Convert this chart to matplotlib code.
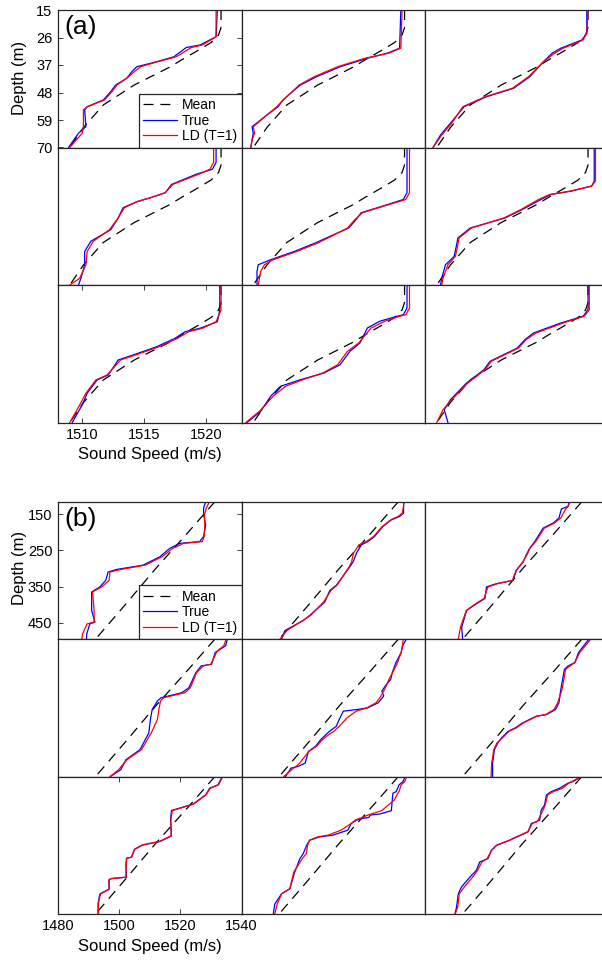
import matplotlib
matplotlib.use("Agg")
import matplotlib.pyplot as plt

plt.rcParams['font.family'] = ['Liberation Sans', 'DejaVu Sans']

W, H = 602, 960

# ---------------- panel (a): shallow profiles, depth 15-70 m ----------------
a_mean_depth = [15, 22, 25, 28, 31, 35, 38, 45, 53, 62, 70]
a_mean_speed = [1521.2, 1521.2, 1521.0, 1520.4, 1519.4, 1518.0, 1517.0, 1514.2, 1511.7, 1510.1, 1509.0]

a1_depth = [15, 25.7, 29, 30, 33.7, 35.7, 37.7, 39.7, 42.3, 45, 47.7, 51, 53.7, 55, 61.7, 64.3, 70]
a1_true = [1520.9, 1520.8, 1519.5, 1518.4, 1517.4, 1516.0, 1514.4, 1514.0, 1513.6, 1512.7, 1512.3, 1511.7, 1510.4, 1510.2, 1510.3, 1509.7, 1508.9]
a1_ld = [1520.8, 1520.8, 1519.7, 1518.8, 1517.6, 1516.1, 1514.7, 1514.2, 1513.6, 1512.8, 1512.4, 1511.8, 1510.4, 1510.1, 1510.1, 1510.0, 1509.0]

a2_depth = [15, 30.3, 32.3, 34.3, 37.7, 41.7, 45, 48.3, 51, 53.7, 57, 61.7, 64.3, 67, 70]
a2_true = [1520.9, 1520.8, 1519.8, 1518.2, 1516.0, 1514.1, 1512.8, 1512.0, 1511.4, 1511.0, 1510.1, 1508.9, 1509.0, 1508.9, 1508.8]
a2_ld = [1521.0, 1520.9, 1519.9, 1518.0, 1515.8, 1513.9, 1512.7, 1512.0, 1511.4, 1510.9, 1510.1, 1509.0, 1509.1, 1508.9, 1508.8]

a3_depth = [15, 24.3, 27, 30.3, 32.3, 35.7, 41.7, 46.3, 49.7, 53.7, 60.3, 65, 70]
a3_true = [1521.1, 1521.1, 1520.7, 1519.0, 1518.3, 1517.6, 1516.5, 1515.2, 1513.0, 1511.2, 1510.1, 1509.3, 1508.7]
a3_ld = [1521.2, 1521.1, 1520.8, 1519.2, 1518.5, 1517.6, 1516.4, 1515.1, 1512.9, 1511.1, 1510.2, 1509.4, 1508.7]

a4_depth = [15, 21.0, 23.7, 25.7, 29.8, 33.1, 35.1, 36.7, 39.1, 43.2, 47.9, 52.5, 56.6, 61.9, 67.3, 70]
a4_true = [1520.8, 1520.8, 1520.5, 1519.2, 1517.2, 1516.7, 1515.5, 1514.4, 1513.3, 1512.9, 1512.3, 1510.7, 1510.2, 1510.2, 1509.9, 1509.7]
a4_ld = [1520.6, 1520.6, 1520.3, 1519.4, 1517.3, 1516.7, 1515.5, 1514.4, 1513.4, 1512.9, 1512.2, 1510.9, 1510.4, 1510.3, 1509.8, 1509.0]

a5_depth = [15, 33.1, 35.8, 38.5, 41.1, 43.8, 47.2, 50.5, 53.2, 56.6, 59.9, 61.9, 64.6, 70]
a5_true = [1521.4, 1521.4, 1521.1, 1519.4, 1517.7, 1517.3, 1516.7, 1515.2, 1514.0, 1512.3, 1510.4, 1509.4, 1509.3, 1509.3]
a5_ld = [1521.6, 1521.6, 1521.3, 1519.5, 1517.8, 1517.2, 1516.6, 1515.3, 1514.2, 1512.5, 1510.6, 1509.9, 1509.6, 1509.4]

a6_depth = [15, 28.4, 30.4, 32.4, 33.8, 35.8, 39.8, 43.2, 47.2, 51.2, 53.9, 58.6, 61.9, 67.3, 70]
a6_true = [1521.7, 1521.7, 1521.5, 1519.9, 1518.2, 1517.4, 1515.9, 1514.5, 1511.7, 1510.7, 1510.6, 1510.4, 1509.7, 1509.4, 1509.3]
a6_ld = [1521.8, 1521.8, 1521.5, 1519.8, 1518.1, 1517.2, 1515.8, 1514.4, 1511.8, 1510.8, 1510.7, 1510.5, 1509.9, 1509.5, 1509.4]

a7_depth = [15, 25, 29.7, 32.3, 33.7, 36.3, 39.7, 43, 45, 51, 53, 58.3, 63, 70]
a7_true = [1521.1, 1521.1, 1520.9, 1519.5, 1518.3, 1517.5, 1516.0, 1514.1, 1512.9, 1512.1, 1511.2, 1510.4, 1510.0, 1509.2]
a7_ld = [1521.2, 1521.2, 1520.8, 1519.7, 1518.6, 1517.7, 1516.2, 1514.3, 1513.1, 1512.0, 1511.1, 1510.3, 1509.8, 1509.0]

a8_depth = [15, 24.2, 26.9, 27.5, 29.5, 32.2, 38.2, 41.5, 46.9, 50.2, 52.9, 55.5, 59.5, 65.5, 70]
a8_true = [1521.4, 1521.4, 1521.1, 1520.6, 1519.2, 1518.2, 1517.6, 1516.8, 1516.0, 1514.7, 1512.8, 1511.2, 1510.4, 1509.6, 1508.5]
a8_ld = [1521.6, 1521.6, 1521.3, 1520.8, 1519.6, 1518.5, 1517.5, 1516.6, 1515.8, 1514.6, 1513.0, 1511.6, 1510.6, 1509.5, 1508.4]

a9_depth = [15, 24.9, 27.5, 30.2, 34.2, 36.9, 40.2, 45.5, 48.9, 54.2, 60.9, 64.9, 70]
a9_true = [1521.2, 1521.2, 1520.8, 1519.0, 1516.8, 1516.1, 1515.5, 1513.3, 1512.8, 1511.4, 1510.1, 1509.6, 1509.9]
a9_ld = [1521.3, 1521.3, 1520.9, 1519.2, 1517.0, 1516.2, 1515.6, 1513.4, 1512.9, 1511.5, 1510.2, 1509.5, 1509.0]

a_xticks = [1510, 1515, 1520]
a_yticks = [15, 26, 37, 48, 59, 70]

# ---------------- panel (b): deep profiles ----------------
b_mean_depth = [116, 200, 300, 400, 495]
b_mean_speed = [1531.3, 1522.6, 1512.0, 1502.0, 1492.3]

b1_depth = [116, 134, 152, 180, 212, 226, 231, 245, 268, 291, 303, 310, 333, 351, 365, 416, 448, 453, 481, 495]
b1_true = [1528.3, 1527.6, 1527.6, 1528.3, 1527.6, 1526.3, 1519.8, 1516.5, 1513.3, 1507.8, 1499.1, 1496.4, 1495.6, 1493.7, 1491.0, 1491.0, 1492.1, 1490.4, 1489.4, 1489.3]
b1_ld = [1529.5, 1528.5, 1527.9, 1528.0, 1527.8, 1527.2, 1521.0, 1517.5, 1514.0, 1508.5, 1500.5, 1497.0, 1496.7, 1494.3, 1491.3, 1491.8, 1491.8, 1489.5, 1488.0, 1487.8]

b2_depth = [116, 147.4, 156.8, 166, 184.6, 212, 226, 235, 258, 281.8, 295.7, 346.6, 360.4, 393, 429.8, 443.7, 471.5, 495]
b2_true = [1533.0, 1533.0, 1531.7, 1529.0, 1526.2, 1523.5, 1521.3, 1519.2, 1517.6, 1516.5, 1515.4, 1511.0, 1508.9, 1507.2, 1502.3, 1500.2, 1494.2, 1493.1]
b2_ld = [1533.2, 1532.6, 1531.2, 1528.8, 1526.0, 1523.2, 1520.8, 1518.4, 1516.6, 1516.0, 1515.2, 1511.2, 1509.3, 1506.8, 1502.6, 1500.0, 1494.8, 1492.6]

b3_depth = [116, 129, 136, 161, 175, 189, 226, 244.6, 263, 282, 305, 333, 342, 351, 383, 397, 416, 462, 495]
b3_true = [1527.3, 1526.7, 1524.6, 1523.8, 1521.9, 1518.6, 1515.9, 1514.2, 1513.1, 1512.1, 1509.9, 1508.8, 1503.4, 1500.1, 1499.6, 1496.9, 1493.6, 1492.0, 1492.3]
b3_ld = [1527.4, 1526.8, 1526.0, 1524.4, 1522.3, 1519.0, 1516.2, 1514.3, 1513.3, 1512.0, 1509.8, 1508.6, 1503.8, 1500.6, 1499.3, 1496.6, 1493.5, 1491.6, 1490.9]

b4_depth = [116, 134.5, 143.7, 153, 185.3, 190, 208.4, 250, 263.9, 277.8, 287, 310.1, 337.9, 374.8, 421, 448.8, 476.5, 495]
b4_true = [1535.4, 1534.8, 1533.1, 1531.4, 1530.2, 1526.8, 1525.1, 1522.8, 1520.5, 1513.7, 1512.5, 1510.8, 1510.2, 1509.7, 1506.8, 1502.2, 1500.5, 1497.1]
b4_ld = [1535.0, 1534.2, 1532.8, 1531.8, 1530.0, 1527.5, 1525.3, 1523.3, 1521.5, 1514.5, 1513.5, 1513.0, 1512.5, 1510.5, 1507.3, 1502.5, 1499.8, 1497.1]

b5_depth = [116, 134.5, 153, 180.7, 208.4, 226.9, 245.4, 259.3, 273.1, 291.6, 305.5, 310.1, 314.8, 333.2, 356.3, 370.2, 379.5, 393.3, 411.8, 425.7, 458, 467.3, 471.9, 495]
b5_true = [1533.9, 1532.7, 1532.2, 1530.5, 1529.3, 1528.8, 1527.0, 1525.9, 1526.5, 1524.7, 1521.3, 1517.9, 1513.3, 1512.2, 1511.0, 1508.8, 1507.6, 1505.9, 1504.2, 1501.9, 1500.8, 1498.5, 1496.2, 1494.4]
b5_ld = [1532.9, 1532.6, 1532.2, 1531.0, 1529.4, 1528.2, 1527.3, 1526.5, 1525.6, 1524.0, 1521.0, 1519.3, 1517.5, 1514.5, 1512.0, 1510.2, 1508.5, 1506.5, 1504.5, 1502.0, 1499.0, 1497.8, 1497.0, 1493.8]

b6_depth = [116, 134.5, 153, 180.7, 190, 199.2, 254.7, 291.6, 310.1, 324, 328.6, 347.1, 361, 370.2, 388.7, 402.6, 421, 458, 495]
b6_true = [1533.6, 1531.9, 1530.2, 1529.0, 1526.8, 1525.6, 1524.4, 1523.8, 1522.7, 1519.8, 1516.4, 1511.9, 1509.5, 1507.2, 1505.0, 1503.8, 1502.7, 1502.1, 1502.1]
b6_ld = [1534.2, 1532.4, 1530.6, 1529.0, 1527.4, 1526.0, 1524.8, 1523.4, 1522.2, 1519.5, 1516.6, 1512.2, 1509.8, 1507.5, 1505.3, 1503.5, 1502.5, 1501.8, 1501.6]

b7_depth = [116, 139, 148.2, 166.6, 192.4, 209.8, 235.6, 279.8, 295.4, 304.6, 316.6, 338.6, 341.4, 359.8, 393.8, 397.5, 401.2, 426.9, 439.8, 465.6, 495]
b7_true = [1533.7, 1532.3, 1529.6, 1528.3, 1524.1, 1517.1, 1516.8, 1517.1, 1513.3, 1507.8, 1505.1, 1504.0, 1502.4, 1502.2, 1502.4, 1497.5, 1496.7, 1496.7, 1493.7, 1493.1, 1493.1]
b7_ld = [1533.9, 1532.5, 1529.8, 1528.4, 1524.3, 1517.4, 1516.9, 1517.0, 1513.1, 1507.6, 1505.0, 1504.1, 1502.5, 1502.3, 1502.2, 1497.4, 1496.6, 1496.8, 1493.9, 1493.2, 1493.3]

b8_depth = [116, 129.9, 139.1, 157.6, 162.2, 180.7, 210.3, 219.5, 222.3, 228.8, 231.6, 236.2, 245.4, 263.9, 277.8, 282.4, 291.6, 305.5, 328.6, 342.5, 379.5, 425.7, 439.6, 467.3, 495]
b8_true = [1533.5, 1532.8, 1531.5, 1530.6, 1529.5, 1529.3, 1529.0, 1525.2, 1522.1, 1521.7, 1519.7, 1517.6, 1515.9, 1514.8, 1509.9, 1505.6, 1502.3, 1501.3, 1500.2, 1499.1, 1497.4, 1495.8, 1493.1, 1490.9, 1490.4]
b8_ld = [1534.0, 1533.4, 1532.2, 1531.5, 1531.1, 1530.0, 1525.8, 1522.4, 1521.3, 1519.7, 1518.6, 1517.2, 1515.9, 1512.6, 1508.3, 1505.0, 1502.3, 1501.6, 1501.2, 1499.9, 1497.1, 1495.8, 1493.1, 1491.7, 1490.9]

b9_depth = [116, 129.9, 134.5, 148.4, 157.6, 166.9, 194.6, 208.4, 236.2, 240.8, 245.4, 268.5, 273.1, 282.4, 291.6, 305.5, 319.4, 342.5, 351.7, 374.8, 393.3, 421, 439.6, 476.5, 495]
b9_true = [1531.1, 1528.4, 1526.7, 1524.0, 1521.3, 1519.7, 1519.1, 1518.0, 1517.5, 1516.4, 1514.8, 1513.7, 1512.6, 1509.9, 1507.7, 1503.4, 1501.7, 1500.6, 1497.9, 1496.8, 1494.7, 1491.9, 1490.9, 1490.3, 1489.8]
b9_ld = [1531.1, 1528.0, 1527.0, 1525.0, 1522.0, 1520.1, 1519.3, 1518.6, 1517.0, 1516.5, 1515.1, 1513.6, 1512.3, 1510.2, 1507.8, 1503.5, 1501.8, 1500.3, 1498.6, 1497.2, 1495.6, 1492.8, 1491.2, 1490.7, 1489.9]

b_xticks = [1480, 1500, 1520, 1540]
b_yticks = [150, 250, 350, 450]

a_profiles = [(a1_depth, a1_true, a1_ld), (a2_depth, a2_true, a2_ld), (a3_depth, a3_true, a3_ld),
              (a4_depth, a4_true, a4_ld), (a5_depth, a5_true, a5_ld), (a6_depth, a6_true, a6_ld),
              (a7_depth, a7_true, a7_ld), (a8_depth, a8_true, a8_ld), (a9_depth, a9_true, a9_ld)]
b_profiles = [(b1_depth, b1_true, b1_ld), (b2_depth, b2_true, b2_ld), (b3_depth, b3_true, b3_ld),
              (b4_depth, b4_true, b4_ld), (b5_depth, b5_true, b5_ld), (b6_depth, b6_true, b6_ld),
              (b7_depth, b7_true, b7_ld), (b8_depth, b8_true, b8_ld), (b9_depth, b9_true, b9_ld)]

fig = plt.figure(figsize=(W / 100, H / 100), dpi=100)

col_left = [58, 241.5, 425]
col_w = 183.5
spine_col = '#262626'


def px_axes(left, top, w, h):
    return fig.add_axes([left / W, 1 - (top + h) / H, w / W, h / H])


def panel(profiles, mean_d, mean_s, tops, h, xlim, ylim, xticks, yticks, tag):
    axes = []
    for i, (dep, tru, ld) in enumerate(profiles):
        r, c = divmod(i, 3)
        ax = px_axes(col_left[c], tops[r], col_w, h)
        ax.plot(mean_s, mean_d, color='k', lw=0.9, dashes=(8, 5.5), label='Mean')
        ax.plot(tru, dep, color='#0000ff', lw=0.9, label='True')
        ax.plot(ld, dep, color='#ff0000', lw=0.9, label='LD (T=1)')
        ax.set_xlim(xlim)
        ax.set_ylim(ylim[1], ylim[0])
        for sp in ax.spines.values():
            sp.set_color(spine_col)
            sp.set_linewidth(0.9)
        ax.set_xticks([])
        ax.set_yticks([])
        axes.append(ax)

    # depth ticks on the top-left tile
    ax0 = axes[0]
    ax0.set_yticks(yticks)
    ax0.tick_params(axis='y', direction='in', length=3.5, width=0.6, color=spine_col,
                    left=True, right=True, labelsize=10.5, pad=4)
    ax0.text(0.035, 0.965, tag, transform=ax0.transAxes, fontsize=19, va='top', ha='left')
    leg = ax0.legend(loc='lower right', borderaxespad=0, fontsize=10, handlelength=2.4,
                     handletextpad=0.4, labelspacing=0.12, borderpad=0.3,
                     fancybox=False, framealpha=1, edgecolor=spine_col)
    leg.get_frame().set_linewidth(0.9)

    # speed ticks on the bottom-left tile
    ax6 = axes[6]
    ax6.set_xticks(xticks)
    ax6.tick_params(axis='x', direction='in', length=3.5, width=0.6, color=spine_col,
                    bottom=True, top=True, labelsize=10.5, pad=4)
    return axes


a_tops = [10, 147.5, 285]
a_h = 137.5
panel(a_profiles, a_mean_depth, a_mean_speed, a_tops, a_h,
      (1508.05, 1522.85), (15, 70), a_xticks, a_yticks, '(a)')

b_tops = [501.7, 639.1, 776.5]
b_h = 137.4
panel(b_profiles, b_mean_depth, b_mean_speed, b_tops, b_h,
      (1480, 1540), (116, 495), b_xticks, b_yticks, '(b)')

# axis titles
fig.text(20 / W, 1 - 78 / H, 'Depth (m)', rotation=90, fontsize=12, ha='center', va='center')
fig.text(20 / W, 1 - 568 / H, 'Depth (m)', rotation=90, fontsize=12, ha='center', va='center')
fig.text(150 / W, 1 - 455 / H, 'Sound Speed (m/s)', fontsize=12, ha='center', va='center')
fig.text(150 / W, 1 - 947 / H, 'Sound Speed (m/s)', fontsize=12, ha='center', va='center')

fig.savefig('out.png', dpi=100)
